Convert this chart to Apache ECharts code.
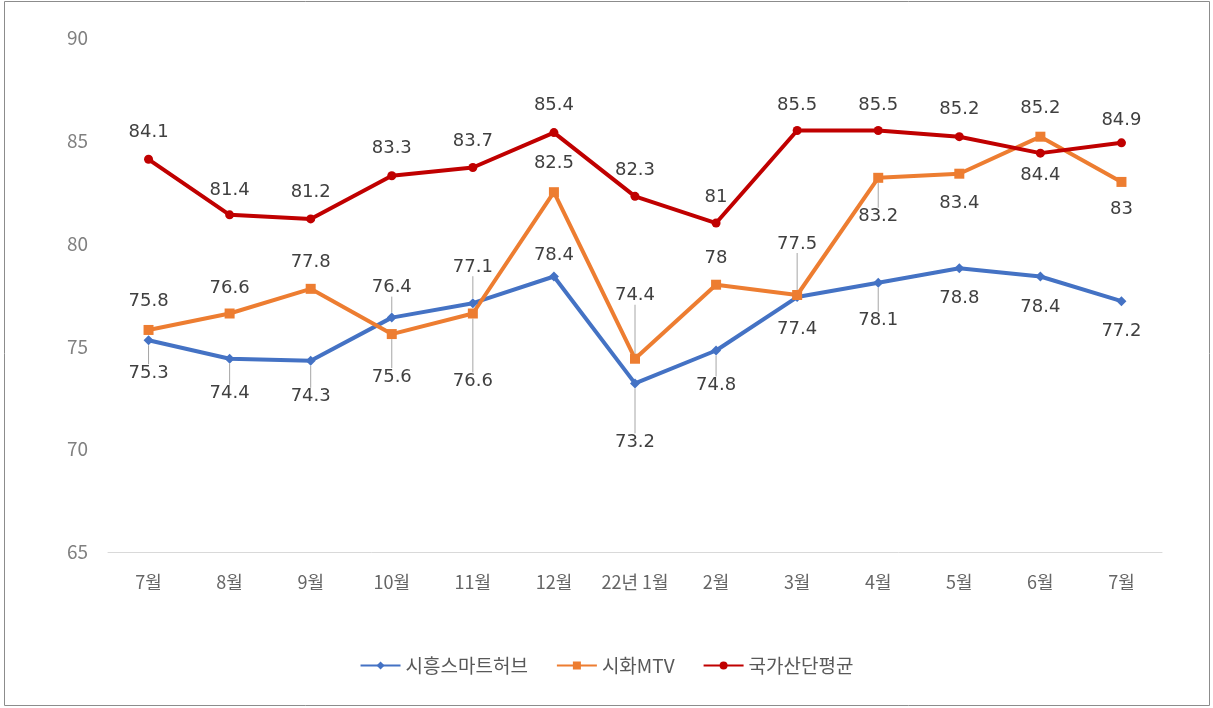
<!DOCTYPE html>
<html lang="ko">
<head>
    <meta charset="UTF-8">
    <script src="https://cdn.jsdelivr.net/npm/echarts@6/dist/echarts.min.js"></script>
    <style>
        body { margin: 0; background: #fff; }
    </style>
</head>
<body>
<div id="main" style="width: 1213px;height:708px;"></div>

<script type="text/javascript">
    // 데이터
    var months = ['7월', '8월', '9월', '10월', '11월', '12월', '22년 1월', '2월', '3월', '4월', '5월', '6월', '7월'];
    var siheungHub = [75.3, 74.4, 74.3, 76.4, 77.1, 78.4, 73.2, 74.8, 77.4, 78.1, 78.8, 78.4, 77.2];
    var sihwaMTV = [75.8, 76.6, 77.8, 75.6, 76.6, 82.5, 74.4, 78, 77.5, 83.2, 83.4, 85.2, 83];
    var nationalAvg = [84.1, 81.4, 81.2, 83.3, 83.7, 85.4, 82.3, 81, 85.5, 85.5, 85.2, 84.4, 84.9];

    // 라벨 위치: 점에서 라벨 중심까지의 거리(px), 음수 = 위, 양수 = 아래
    var hubLabelOffset = [34, 36, 37, -31, -37, -22, 60, 36, 33, 39, 31, 32, 31];
    var mtvLabelOffset = [-30, -26, -28, 44, 69, -30, -64, -27, -52, 40, 31, -29, 28];
    var avgLabelOffset = [-28, -26, -28, -29, -28, -29, -27, -27, -27, -27, -29, 24, -24];

    // 지시선 표시 여부
    var hubLeader = [1, 1, 1, 1, 1, 0, 1, 1, 0, 1, 0, 0, 0];
    var mtvLeader = [0, 0, 0, 1, 1, 0, 1, 0, 1, 1, 0, 0, 0];
    var avgLeader = [0, 0, 0, 0, 0, 0, 0, 0, 0, 0, 0, 0, 0];

    var BASE_OFFSET = 23;

    function buildData(values, offsets, leaders) {
        return values.map(function (v, i) {
            return {
                value: v,
                label: { position: offsets[i] < 0 ? 'top' : 'bottom' },
                labelLine: { show: leaders[i] === 1 }
            };
        });
    }

    var myChart = echarts.init(document.getElementById('main'));

    var labelStyle = {
        show: true,
        color: '#404040',
        fontSize: 18,
        fontFamily: 'DejaVu Sans, sans-serif',
        distance: 8
    };

    var offsetTable = [hubLabelOffset, mtvLabelOffset, avgLabelOffset];

    function layoutLabel(params) {
        var off = offsetTable[params.seriesIndex][params.dataIndex];
        var extra = Math.abs(off) - BASE_OFFSET;
        return { dy: off < 0 ? -extra : extra };
    }

    var leaderLine = {
        show: true,
        lineStyle: { color: '#a6a6a6', width: 1 }
    };

    var option = {
        backgroundColor: '#fff',
        animation: false,
        graphic: [{
            type: 'rect',
            shape: { x: 4.5, y: 1.5, width: 1205, height: 704 },
            style: { fill: 'none', stroke: '#8c8c8c', lineWidth: 1 }
        }],
        grid: {
            left: 108,
            right: 51,
            top: 38,
            bottom: 156
        },
        legend: {
            bottom: 28,
            left: 'center',
            itemWidth: 40,
            itemHeight: 10,
            itemGap: 28,
            textStyle: {
                color: '#595959',
                fontSize: 19,
                fontFamily: 'Noto Sans CJK KR'
            },
            data: ['시흥스마트허브', '시화MTV', '국가산단평균']
        },
        xAxis: {
            type: 'category',
            data: months,
            axisLine: { lineStyle: { color: '#d9d9d9', width: 1 } },
            axisTick: { show: false },
            axisLabel: {
                color: '#666666',
                fontSize: 18,
                fontFamily: 'Noto Sans CJK KR',
                margin: 21,
                interval: 0
            }
        },
        yAxis: {
            type: 'value',
            min: 65,
            max: 90,
            interval: 5,
            axisLine: { show: false },
            axisTick: { show: false },
            splitLine: { show: false },
            axisLabel: {
                color: '#808080',
                fontSize: 19,
                fontFamily: 'Noto Sans CJK KR',
                margin: 20
            }
        },
        series: [
            {
                name: '시흥스마트허브',
                type: 'line',
                data: buildData(siheungHub, hubLabelOffset, hubLeader),
                symbol: 'diamond',
                symbolSize: 10,
                itemStyle: { color: '#4472C4' },
                lineStyle: { width: 4, color: '#4472C4' },
                label: labelStyle,
                labelLayout: layoutLabel,
                labelLine: leaderLine
            },
            {
                name: '시화MTV',
                type: 'line',
                data: buildData(sihwaMTV, mtvLabelOffset, mtvLeader),
                symbol: 'rect',
                symbolSize: 10,
                itemStyle: { color: '#ED7D31' },
                lineStyle: { width: 4, color: '#ED7D31' },
                label: labelStyle,
                labelLayout: layoutLabel,
                labelLine: leaderLine
            },
            {
                name: '국가산단평균',
                type: 'line',
                data: buildData(nationalAvg, avgLabelOffset, avgLeader),
                symbol: 'circle',
                symbolSize: 9,
                itemStyle: { color: '#C00000' },
                lineStyle: { width: 4, color: '#C00000' },
                label: labelStyle,
                labelLayout: layoutLabel
            }
        ]
    };

    myChart.setOption(option);
</script>
</body>
</html>
